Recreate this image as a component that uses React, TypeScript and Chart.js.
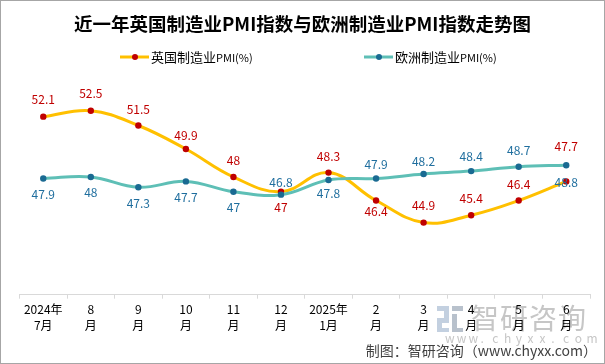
import React, { useEffect, useRef } from "react";
import { Chart, registerables } from "chart.js";

Chart.register(...registerables);

const FONT = '"Noto Sans CJK SC", "Noto Sans", sans-serif';

const titleText = "近一年英国制造业PMI指数与欧洲制造业PMI指数走势图";
const ukName = "英国制造业PMI(%)";
const euroName = "欧洲制造业PMI(%)";
const footerText = "制图：智研咨询（www.chyxx.com）";

const categories: string[][] = [
  ["2024年", "7月"],
  ["8", "月"],
  ["9", "月"],
  ["10", "月"],
  ["11", "月"],
  ["12", "月"],
  ["2025年", "1月"],
  ["2", "月"],
  ["3", "月"],
  ["4", "月"],
  ["5", "月"],
  ["6", "月"],
];
const ukPMI = [52.1, 52.5, 51.5, 49.9, 48, 47, 48.3, 46.4, 44.9, 45.4, 46.4, 47.7];
const euroPMI = [47.9, 48, 47.3, 47.7, 47, 46.8, 47.8, 47.9, 48.2, 48.4, 48.7, 48.8];

// label placement (style): vertical offset of each value label from its point, px
const ukLabelDy = [-17, -17, -16, -14, -17, 16, -16, 11, -17, -17, -16, -35];
const euroLabelDy = [16, 15, 16, 16, 16, -12, 14, -14, -13, -15, -16, 17];

const UK_LINE = "#FFC000";
const UK_POINT = "#C00000";
const UK_LABEL = "#C00000";
const EU_LINE = "#5EBFB6";
const EU_POINT = "#1A6A92";
const EU_LABEL = "#1F6E9E";

const deco = {
  id: "deco",
  beforeDraw(chart: any) {
    const ctx = chart.ctx as CanvasRenderingContext2D;
    const w = chart.width;
    const h = chart.height;
    ctx.save();
    ctx.fillStyle = "#ffffff";
    ctx.fillRect(0, 0, w, h);
    // watermark
    ctx.fillStyle = "#c3d0e0";
    ctx.fillRect(437, 306, 12, 5);
    ctx.fillRect(444, 311, 5, 7);
    ctx.fillRect(437, 318, 12, 5);
    ctx.fillRect(437, 323, 5, 5);
    ctx.fillRect(437, 328, 12, 4);
    ctx.fillStyle = "#b8c1cc";
    ctx.fillRect(452, 306, 11, 5);
    ctx.fillRect(452, 314, 5, 18);
    ctx.fillRect(457, 328, 6, 4);
    ctx.fillStyle = "#c6c6c6";
    ctx.font = `28px ${FONT}`;
    ctx.textBaseline = "middle";
    ctx.textAlign = "left";
    let x = 471;
    for (const c of "智研咨询") {
      ctx.fillText(c, x, 318);
      x += 29;
    }
    ctx.font = `12px ${FONT}`;
    x = 445;
    for (const c of "www.chyxx.com") {
      ctx.fillText(c, x, 338);
      x += 11.8;
    }
    ctx.restore();
  },
  afterDatasetsDraw(chart: any) {
    const ctx = chart.ctx as CanvasRenderingContext2D;
    ctx.save();
    ctx.font = `12px ${FONT}`;
    ctx.textAlign = "center";
    ctx.textBaseline = "middle";
    const sets = [
      { idx: 0, data: ukPMI, dy: ukLabelDy, color: UK_LABEL },
      { idx: 1, data: euroPMI, dy: euroLabelDy, color: EU_LABEL },
    ];
    for (const s of sets) {
      const meta = chart.getDatasetMeta(s.idx);
      ctx.fillStyle = s.color;
      meta.data.forEach((pt: any, i: number) => {
        ctx.fillText(String(s.data[i]), pt.x, pt.y + s.dy[i]);
      });
    }
    ctx.restore();
  },
  afterDraw(chart: any) {
    const ctx = chart.ctx as CanvasRenderingContext2D;
    const w = chart.width;
    const h = chart.height;
    ctx.save();
    // title
    ctx.fillStyle = "#000";
    ctx.font = `bold 18.5px ${FONT}`;
    ctx.textAlign = "center";
    ctx.textBaseline = "middle";
    ctx.fillText(titleText, w / 2, 24);

    // legend
    const drawLegend = (x0: number, line: string, pt: string, name: string) => {
      ctx.strokeStyle = line;
      ctx.lineWidth = 3;
      ctx.beginPath();
      ctx.moveTo(x0, 57);
      ctx.lineTo(x0 + 29, 57);
      ctx.stroke();
      ctx.fillStyle = pt;
      ctx.beginPath();
      ctx.arc(x0 + 15, 57, 3, 0, Math.PI * 2);
      ctx.fill();
      const cjk = name.replace("PMI(%)", "");
      ctx.fillStyle = "#000";
      ctx.textAlign = "left";
      ctx.font = `13px ${FONT}`;
      ctx.fillText(cjk, x0 + 31, 57);
      const cw = ctx.measureText(cjk).width;
      ctx.font = `11px ${FONT}`;
      ctx.fillText("PMI(%)", x0 + 31 + cw, 57.5);
    };
    drawLegend(120, UK_LINE, UK_POINT, ukName);
    drawLegend(364, EU_LINE, EU_POINT, euroName);

    // footer
    ctx.fillStyle = "#404040";
    ctx.font = `14px ${FONT}`;
    ctx.textAlign = "right";
    ctx.fillText(footerText, 597, 351);

    // border
    ctx.strokeStyle = "#a6a6a6";
    ctx.lineWidth = 1;
    ctx.strokeRect(0.5, 0.5, w - 1, h - 1);
    ctx.restore();
  },
};

export default function App() {
  const ref = useRef<HTMLCanvasElement | null>(null);
  useEffect(() => {
    document.body.style.margin = "0";
    const canvas = ref.current;
    if (!canvas) return;
    const chart = new Chart(canvas, {
      type: "line",
      data: {
        labels: categories as any,
        datasets: [
          {
            label: ukName,
            data: ukPMI,
            borderColor: UK_LINE,
            backgroundColor: UK_POINT,
            pointBackgroundColor: UK_POINT,
            pointBorderColor: UK_POINT,
            pointRadius: 3.2,
            pointBorderWidth: 0,
            borderWidth: 3,
            tension: 0.4,
            fill: false,
            order: 1,
          },
          {
            label: euroName,
            data: euroPMI,
            borderColor: EU_LINE,
            backgroundColor: EU_POINT,
            pointBackgroundColor: EU_POINT,
            pointBorderColor: EU_POINT,
            pointRadius: 3.2,
            pointBorderWidth: 0,
            borderWidth: 3,
            tension: 0.4,
            fill: false,
            order: 0,
          },
        ],
      },
      options: {
        responsive: false,
        animation: false,
        devicePixelRatio: 1,
        layout: { padding: { left: 19.5, right: 15, top: 74, bottom: 0 } },
        plugins: {
          legend: { display: false },
          title: { display: false },
          tooltip: { enabled: false },
        },
        scales: {
          x: {
            type: "category",
            offset: true,
            grid: {
              display: true,
              drawOnChartArea: false,
              drawTicks: true,
              tickLength: 4,
              color: "#d9d9d9",
              offset: true,
            },
            border: { display: true, color: "#d9d9d9", width: 1 },
            ticks: {
              color: "#000",
              font: { family: FONT, size: 12, lineHeight: 16 / 12 },
              padding: 3,
              maxRotation: 0,
              autoSkip: false,
            },
            afterFit(scale: any) {
              scale.height = 364 - 294.7;
            },
          },
          y: { display: false, min: 40, max: 55 },
        },
      },
      plugins: [deco],
    } as any);
    return () => chart.destroy();
  }, []);
  return <canvas ref={ref} width={605} height={364} style={{ display: "block" }} />;
}
